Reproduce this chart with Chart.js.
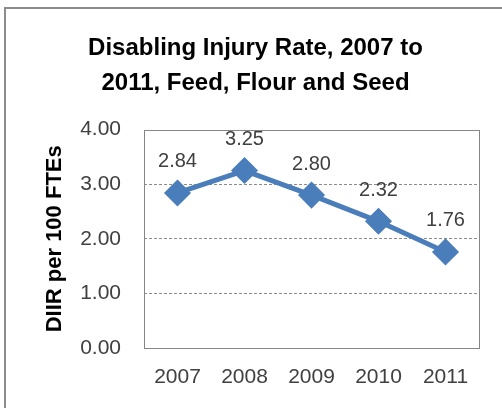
<!DOCTYPE html>
<html>
<head>
<meta charset="utf-8">
<script src="https://cdn.jsdelivr.net/npm/chart.js@4"></script>
<style>
  html, body { margin: 0; padding: 0; background: #fff; }
  #wrap { width: 502px; height: 408px; }
</style>
</head>
<body>
<div id="wrap"><canvas id="myChart" width="502" height="408"></canvas></div>
<script>
const years = ["2007", "2008", "2009", "2010", "2011"];
const diirValues = [2.84, 3.25, 2.80, 2.32, 1.76];
const yTicks = [0, 1, 2, 3, 4];
const titleLines = ["Disabling Injury Rate, 2007 to", "2011, Feed, Flour and Seed"];
const yTitle = "DIIR per 100 FTEs";

const FONT = "'Liberation Sans', Arial, sans-serif";

// outer frame (only top and left edges are visible in the picture)
const frame = {
    id: 'frame',
    beforeDraw(chart) {
        const ctx = chart.ctx;
        ctx.save();
        ctx.fillStyle = '#fff';
        ctx.fillRect(0, 0, chart.width, chart.height);
        ctx.strokeStyle = '#8c8c8c';
        ctx.lineWidth = 2;
        ctx.beginPath();
        ctx.moveTo(5, chart.height);
        ctx.lineTo(5, 8);
        ctx.lineTo(chart.width, 8);
        ctx.stroke();
        ctx.restore();
    },
    beforeDatasetsDraw(chart) {
        const a = chart.chartArea;
        const ctx = chart.ctx;
        ctx.save();
        ctx.strokeStyle = '#868686';
        ctx.lineWidth = 1;
        ctx.strokeRect(Math.round(a.left) + 0.5, Math.round(a.top) + 0.5,
            Math.round(a.right - a.left), Math.round(a.bottom - a.top));
        ctx.restore();
    }
};

// value labels above each point
const valueLabels = {
    id: 'valueLabels',
    afterDatasetsDraw(chart) {
        const ctx = chart.ctx;
        const meta = chart.getDatasetMeta(0);
        ctx.save();
        ctx.font = '20px ' + FONT;
        ctx.fillStyle = '#404040';
        ctx.textAlign = 'center';
        ctx.textBaseline = 'middle';
        meta.data.forEach((pt, i) => {
            ctx.fillText(diirValues[i].toFixed(2), pt.x, pt.y - 31);
        });
        ctx.restore();
    }
};

new Chart(document.getElementById('myChart'), {
    type: 'line',
    data: {
        labels: years,
        datasets: [{
            data: diirValues,
            borderColor: '#4a7ebb',
            backgroundColor: '#4a7ebb',
            borderWidth: 5,
            pointStyle: 'rectRot',
            pointRadius: 10,
            pointHoverRadius: 10,
            tension: 0
        }]
    },
    options: {
        responsive: false,
        animation: false,
        layout: { padding: { left: 32, right: 23, top: 0, bottom: 0 } },
        plugins: {
            legend: { display: false },
            tooltip: { enabled: false },
            title: {
                display: true,
                text: titleLines,
                color: '#000',
                font: { family: FONT, size: 24, weight: 'bold', lineHeight: 1.45 },
                padding: { top: 31, bottom: 29 }
            }
        },
        scales: {
            x: {
                offset: true,
                grid: { display: false, drawTicks: false },
                border: { display: false },
                ticks: {
                    color: '#404040',
                    padding: 17,
                    font: { family: FONT, size: 21 }
                },
                afterFit(s) { s.height = 60; }
            },
            y: {
                min: 0,
                max: 4,
                afterBuildTicks(s) { s.ticks = yTicks.map(v => ({ value: v })); },
                grid: {
                    drawTicks: false,
                    color: ctx => (ctx.tick.value > 0 && ctx.tick.value < 4) ? '#8a8a8a' : 'rgba(0,0,0,0)',
                    lineWidth: 1
                },
                border: { display: false, dash: [3, 2] },
                ticks: {
                    color: '#404040',
                    padding: 23,
                    font: { family: FONT, size: 21 },
                    callback: v => v.toFixed(2)
                },
                title: {
                    display: true,
                    text: yTitle,
                    color: '#000',
                    font: { family: FONT, size: 22, weight: 'bold', lineHeight: 1.2 },
                    padding: { top: 10, bottom: 0 }
                },
                afterFit(s) { s.width = 144 - 32; }
            }
        }
    },
    plugins: [frame, valueLabels]
});
</script>
</body>
</html>
